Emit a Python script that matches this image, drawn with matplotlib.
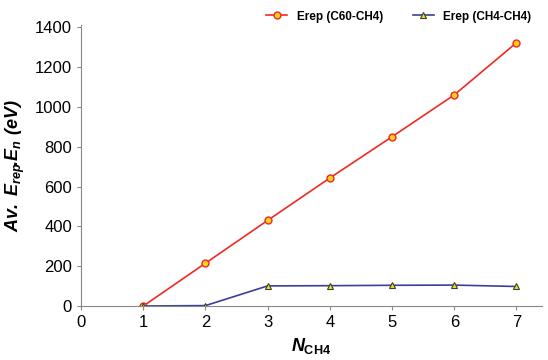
import matplotlib.pyplot as plt

plt.rcParams["font.family"] = ["Liberation Sans", "DejaVu Sans"]
plt.rcParams["mathtext.fontset"] = "custom"
plt.rcParams["mathtext.rm"] = "Liberation Sans:bold:italic"
plt.rcParams["mathtext.it"] = "Liberation Sans:bold:italic"
plt.rcParams["mathtext.bf"] = "Liberation Sans:bold"

n_ch4 = [1, 2, 3, 4, 5, 6, 7]
erep_c60 = [0, 215, 430, 643, 850, 1060, 1322]
erep_ch4 = [0, 2, 101, 102, 104, 105, 98]

fig = plt.figure(figsize=(5.48, 3.6), dpi=100)
ax = fig.add_axes([0.148, 0.15, 0.841, 0.78])

ax.plot(n_ch4, erep_c60, color="#ee2a24", lw=1.2, marker="o", ms=5,
        mfc="#f5d020", mec="#ee2a24", mew=1, label="Erep (C60-CH4)")
ax.plot(n_ch4, erep_ch4, color="#3a3f9a", lw=1.2, marker="^", ms=5,
        mfc="#f2e21c", mec="#3a3f30", mew=0.8, label="Erep (CH4-CH4)")

ax.set_xlim(0, 7.41)
ax.set_ylim(0, 1410)
ax.set_xticks(range(0, 8))
ax.set_yticks(range(0, 1401, 200))

for s in ["top", "right"]:
    ax.spines[s].set_visible(False)
for s in ["left", "bottom"]:
    ax.spines[s].set_color("#888888")
ax.tick_params(colors="#888888", labelcolor="black", labelsize=12, length=3)

ax.set_xlabel(r"$N_{\mathbf{CH4}}$", fontsize=13, labelpad=4)
ax.set_ylabel(r"$Av.\ E_{rep}\!.\!E_n\ (eV)$", fontsize=13, labelpad=6)

ax.legend(loc="upper right", ncol=2, frameon=False,
          bbox_to_anchor=(1.0, 1.09), handlelength=1.8, columnspacing=2.5,
          prop={"family": "Liberation Sans", "weight": "bold", "size": 8.5})

fig.savefig("out.png", dpi=100)
